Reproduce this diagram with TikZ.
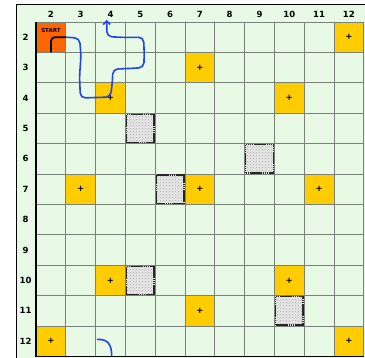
\documentclass[tikz,border=0pt]{standalone}
\usepackage{fontspec}
\setmainfont{DejaVu Sans}
\usetikzlibrary{arrows.meta, patterns}
\usepackage{xcolor}
\definecolor{boardgreen}{RGB}{232,250,230}
\definecolor{bonusyellow}{RGB}{255,204,0}
\definecolor{startorange}{RGB}{255,102,0}
\definecolor{routeblue}{RGB}{30,70,235}
\definecolor{gridgray}{RGB}{120,130,120}

\begin{document}
\begin{tikzpicture}[x=29.8pt, y=-30.4pt,
  cell/.style={rectangle, minimum width=29.8pt, minimum height=30.4pt,
               inner sep=0pt, outer sep=0pt},
  bonus/.style={cell, fill=bonusyellow, font=\fontsize{8.5}{8.5}\selectfont\bfseries},
  block/.style={rectangle, minimum width=27.6pt, minimum height=28.2pt, inner sep=0pt,
                draw=black!85, line width=1.5pt, dash pattern=on 1.5pt off 0.4pt,
                preaction={fill=gray!18}, pattern=crosshatch dots, pattern color=gray!70},
  hdr/.style={font=\fontsize{8.5}{8.5}\selectfont\bfseries},
  gridline/.style={gridgray, line width=0.8pt},
  route/.style={routeblue, line width=1.6pt, rounded corners=5pt}
]
\useasboundingbox (0.292,0.776) rectangle (12.54,12.55);
% board
\fill[boardgreen] (0.829,0.908) rectangle (12.54,12.55);
\draw[line width=1pt] (0.829,12.55) -- (0.829,0.908) -- (12.54,0.908);

% cells
\node[cell, fill=startorange] (start) at (2,2) {};
\foreach \c/\r in {12/2, 7/3, 4/4, 10/4, 3/7, 7/7, 11/7, 4/10, 10/10, 7/11, 2/12, 12/12}
  \node[bonus] (bonus\c-\r) at (\c,\r) {+};

\foreach \k in {1.5,2.5,...,12.5} {
  \draw[gridline] (\k,1.5) -- (\k,12.5);
  \draw[gridline] (1.5,\k) -- (12.5,\k);
}
\draw[line width=1.4pt] (1.5,1.5) -- (1.5,12.5) -- (12.5,12.5);

\foreach \c/\r in {5/5, 9/6, 6/7, 5/10, 10/11}
  \node[block] (block\c-\r) at (\c,\r) {};

% numbering
\foreach \k in {2,...,12} {
  \node[hdr] (col\k) at (\k,1.24) {\k};
  \node[hdr] (row\k) at (1.15,\k) {\k};
}

\node[font=\fontsize{5.5}{6}\selectfont\bfseries, anchor=north] (starttxt)
  at ([yshift=-3pt]start.north) {START};

% route
\draw[line width=1.8pt, rounded corners=4pt] (start.south) |- (start.east);
\draw[route, -{Straight Barb[length=3.5pt, width=7pt]}] (start.east) -- (2.96,2.03)
  -- (3.01,2.6) -- (2.96,3.3) -- (2.99,4.0) -- (3.6,3.98) -- (4.0,3.97)
  -- (4.06,3.5) -- (4.08,3.05) -- (4.6,3.03) -- (5.12,3.0) -- (5.13,2.5)
  -- (5.11,2.0) -- (4.5,2.01) -- (3.88,1.98) -- (3.87,1.43);
\draw[route] (3.54,11.94) .. controls (3.95,11.92) and (4.04,12.15) .. (4.04,12.5);
\end{tikzpicture}
\end{document}
